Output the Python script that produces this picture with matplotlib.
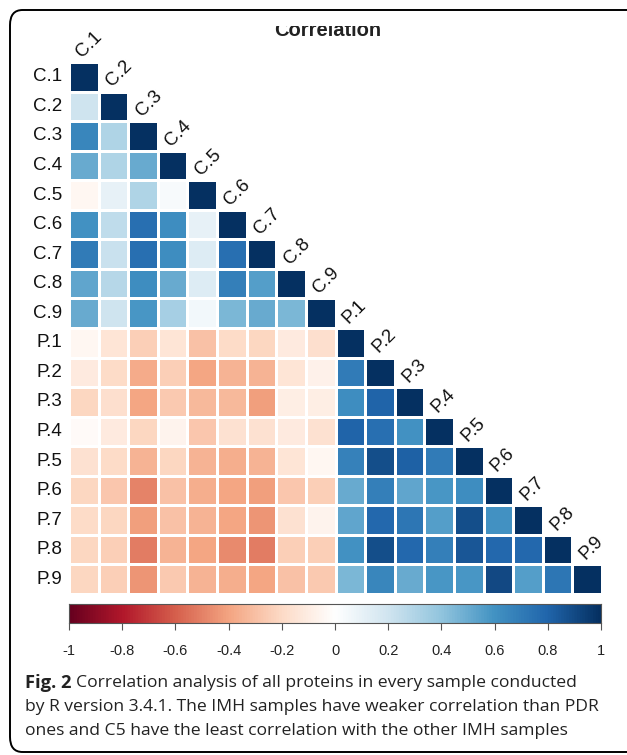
import matplotlib
matplotlib.use("Agg")
import matplotlib.pyplot as plt
import numpy as np
from matplotlib.colors import LinearSegmentedColormap
from matplotlib.patches import FancyBboxPatch, Rectangle

labels = ["C.1", "C.2", "C.3", "C.4", "C.5", "C.6", "C.7", "C.8", "C.9",
          "P.1", "P.2", "P.3", "P.4", "P.5", "P.6", "P.7", "P.8", "P.9"]

# lower triangle, row by row (diagonal = 1)
c_rows = [
    [1],
    [0.20, 1],
    [0.65, 0.30, 1],
    [0.50, 0.30, 0.50, 1],
    [-0.05, 0.10, 0.30, 0.03, 1],
    [0.60, 0.25, 0.75, 0.62, 0.10, 1],
    [0.70, 0.22, 0.75, 0.62, 0.15, 0.75, 1],
    [0.52, 0.28, 0.62, 0.50, 0.15, 0.68, 0.55, 1],
    [0.50, 0.20, 0.58, 0.33, 0.05, 0.45, 0.50, 0.45, 1],
]
p_vs_c = [
    [-0.05, -0.15, -0.25, -0.15, -0.30, -0.20, -0.22, -0.12, -0.18],
    [-0.12, -0.20, -0.38, -0.25, -0.40, -0.35, -0.35, -0.15, -0.08],
    [-0.22, -0.18, -0.40, -0.27, -0.33, -0.33, -0.42, -0.10, -0.10],
    [-0.03, -0.12, -0.22, -0.07, -0.28, -0.17, -0.17, -0.12, -0.17],
    [-0.17, -0.20, -0.35, -0.22, -0.35, -0.37, -0.35, -0.15, -0.05],
    [-0.22, -0.28, -0.50, -0.30, -0.37, -0.40, -0.42, -0.28, -0.25],
    [-0.20, -0.22, -0.42, -0.30, -0.35, -0.40, -0.45, -0.17, -0.07],
    [-0.22, -0.25, -0.52, -0.35, -0.40, -0.48, -0.52, -0.25, -0.25],
    [-0.22, -0.25, -0.45, -0.27, -0.35, -0.37, -0.40, -0.30, -0.27],
]
p_rows = [
    [1],
    [0.70, 1],
    [0.62, 0.80, 1],
    [0.80, 0.75, 0.60, 1],
    [0.67, 0.88, 0.82, 0.70, 1],
    [0.50, 0.68, 0.52, 0.58, 0.62, 1],
    [0.52, 0.78, 0.72, 0.55, 0.88, 0.60, 1],
    [0.60, 0.88, 0.78, 0.68, 0.85, 0.78, 0.78, 1],
    [0.45, 0.65, 0.50, 0.58, 0.58, 0.90, 0.55, 0.72, 1],
]
cbar_ticks = [-1, -0.8, -0.6, -0.4, -0.2, 0, 0.2, 0.4, 0.6, 0.8, 1]

# corrplot default palette
cmap = LinearSegmentedColormap.from_list("corr", [
    "#67001F", "#B2182B", "#D6604D", "#F4A582", "#FDDBC7", "#FFFFFF",
    "#D1E5F0", "#92C5DE", "#4393C3", "#2166AC", "#053061"], N=200)

n = len(labels)
mat = np.full((n, n), np.nan)
for i, r in enumerate(c_rows):
    mat[i, :len(r)] = r
for i, (pc, pp) in enumerate(zip(p_vs_c, p_rows)):
    mat[9 + i, :9] = pc
    mat[9 + i, 9:9 + len(pp)] = pp
mat = np.ma.masked_invalid(mat)

W, H = 627, 755
fig = plt.figure(figsize=(W / 100, H / 100), dpi=100)

def fx(px): return px / W
def fy(py): return 1 - py / H

ax = fig.add_axes([fx(69), fy(594), fx(602) - fx(69), fy(62) - fy(594)])
ax.pcolormesh(np.arange(n + 1), np.arange(n + 1), mat, cmap=cmap, vmin=-1, vmax=1,
              edgecolors="white", linewidth=0.8)
ax.set_xlim(0, n)
ax.set_ylim(n, 0)
ax.axis("off")

lab_font = dict(family="Liberation Sans", fontsize=13.5, color="#111111")
for i, lab in enumerate(labels):
    ax.text(-0.22, i + 0.5, lab, ha="right", va="center", **lab_font)
    ax.text(i + 0.45, i - 0.14, lab, ha="left", va="baseline", rotation=45,
            rotation_mode="anchor", clip_on=False, **lab_font)

# colour bar
cax = fig.add_axes([fx(69), fy(623), fx(601) - fx(69), fy(604) - fy(623)])
grad = np.linspace(-1, 1, 400).reshape(1, -1)
cax.imshow(grad, aspect="auto", cmap=cmap, extent=[-1, 1, 0, 1], vmin=-1, vmax=1)
cax.set_xlim(-1, 1)
cax.set_yticks([])
cax.set_xticks(cbar_ticks)
cax.set_xticklabels([f"{t:g}" for t in cbar_ticks], family="Liberation Sans", fontsize=10.5,
                    color="#222222")
cax.tick_params(axis="x", length=5, width=0.8, color="#555555", pad=10)
for s in cax.spines.values():
    s.set_color("#555555")
    s.set_linewidth(0.8)

# title, clipped at the top as in the figure
fig.text(fx(328), fy(36), "Correlation", ha="center", va="baseline", fontsize=14.5,
         fontweight="bold", family="Liberation Sans", color="#222222")
fig.patches.append(Rectangle((fx(12), fy(26)), fx(600), fy(12) - fy(26),
                             transform=fig.transFigure, facecolor="white",
                             edgecolor="none", zorder=5))

# frame
fig.patches.append(FancyBboxPatch((fx(10), fy(752)), fx(640) - fx(10), fy(10) - fy(752),
                                  boxstyle="round,pad=0,rounding_size=0.02",
                                  transform=fig.transFigure, facecolor="none",
                                  edgecolor="black", linewidth=1.4, zorder=6))

# caption
cap_font = dict(family="Open Sans", fontsize=12.6, color="#222222")
t0 = fig.text(fx(25), fy(683), "Fig. 2", va="center", ha="left", fontweight="bold",
              family="Open Sans", fontsize=13.2, color="#222222")
fig.canvas.draw()
bb = t0.get_window_extent()
fig.text(bb.x1 / W + fx(5), fy(683),
         "Correlation analysis of all proteins in every sample conducted",
         va="center", ha="left", **cap_font)
fig.text(fx(25), fy(707),
         "by R version 3.4.1. The IMH samples have weaker correlation than PDR",
         va="center", ha="left", **cap_font)
fig.text(fx(25), fy(731),
         "ones and C5 have the least correlation with the other IMH samples",
         va="center", ha="left", **cap_font)

fig.savefig("out.png", dpi=100)
